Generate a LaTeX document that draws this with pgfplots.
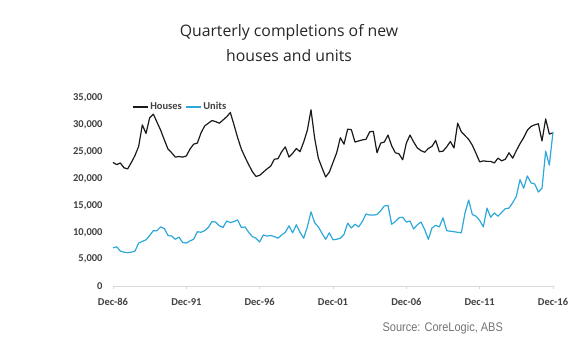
\documentclass[border=0pt]{standalone}
\usepackage{pgfplots}
\pgfplotsset{compat=1.18}
\usepackage{pgfplotstable}
\usepackage{fontspec}
\setmainfont{Carlito}
\newfontfamily\titlefont{Open Sans}
\newfontfamily\srcfont{Liberation Sans}
\definecolor{unitsc}{HTML}{2EA8D8}
\definecolor{housec}{HTML}{1A1A1A}
\definecolor{tickc}{HTML}{404040}
\definecolor{axc}{HTML}{D9D9D9}

\pgfplotstableread{
q v
0 23000
1 22600
2 22900
3 22000
4 21800
5 23000
6 24300
7 26000
8 30000
9 28400
10 31300
11 32000
12 30500
13 29000
14 27200
15 25500
16 24800
17 24000
18 24100
19 24000
20 24200
21 25500
22 26400
23 26600
24 28500
25 29800
26 30300
27 30800
28 30600
29 30300
30 30900
31 31500
32 32300
33 30000
34 27600
35 25500
36 24000
37 22600
38 21300
39 20400
40 20600
41 21200
42 21800
43 22300
44 23600
45 23700
46 25000
47 25900
48 24000
49 24700
50 25600
51 25000
52 26800
53 29000
54 32800
55 27500
56 23800
57 22000
58 20300
59 21200
60 23000
61 24800
62 27600
63 26400
64 29200
65 29100
66 26800
67 27000
68 27200
69 27300
70 28700
71 28800
72 24800
73 26600
74 26800
75 28100
76 26100
77 24800
78 24600
79 23500
80 26600
81 28100
82 26800
83 25700
84 25200
85 24900
86 25600
87 26000
88 27100
89 25000
90 25100
91 25900
92 26900
93 25700
94 30300
95 28700
96 28000
97 27300
98 26200
99 24700
100 23100
101 23300
102 23200
103 23200
104 22900
105 23800
106 23300
107 23600
108 24800
109 23800
110 25200
111 26500
112 27600
113 29000
114 29700
115 30000
116 30200
117 27000
118 31100
119 28300
120 28500
}\houses

\pgfplotstableread{
q v
0 7100
1 7300
2 6500
3 6300
4 6200
5 6300
6 6500
7 8000
8 8300
9 8600
10 9400
11 10300
12 10300
13 11000
14 10700
15 9400
16 9300
17 8700
18 9100
19 8100
20 8000
21 8400
22 8700
23 10100
24 10000
25 10300
26 10900
27 12000
28 11900
29 11200
30 10900
31 12100
32 11800
33 12000
34 12300
35 10900
36 11000
37 10000
38 9200
39 8900
40 8200
41 9500
42 9300
43 9400
44 9200
45 8900
46 9500
47 10000
48 11200
49 9900
50 11400
51 10000
52 8900
53 11000
54 13800
55 11800
56 11000
57 9800
58 8700
59 9900
60 8600
61 8700
62 8900
63 9600
64 11700
65 10800
66 11500
67 11000
68 12000
69 13400
70 13200
71 13200
72 13300
73 14000
74 14900
75 15000
76 11500
77 12000
78 12700
79 12800
80 11900
81 12100
82 10600
83 11400
84 11900
85 10500
86 8700
87 10800
88 11300
89 11000
90 12700
91 10300
92 10200
93 10100
94 10000
95 9900
96 13600
97 16000
98 13300
99 13000
100 12200
101 11000
102 14500
103 12800
104 13600
105 13000
106 13700
107 14400
108 14500
109 15500
110 16700
111 19800
112 18200
113 20500
114 19200
115 19000
116 17500
117 18200
118 25100
119 22500
120 28700
}\units

\begin{document}
\begin{tikzpicture}
\path[use as bounding box] (0pt,0pt) rectangle (580pt,352pt);
\node[font=\titlefont\fontsize{15.8}{25}\selectfont, text=black!85, align=center, anchor=north] at (289pt,331pt) {Quarterly completions of new\\houses and units};
\node[font=\srcfont\fontsize{12.5}{14}\selectfont, text=black!55, anchor=east, xscale=0.88, transform shape] at (506pt,24pt) {Source: CoreLogic, ABS};
\begin{axis}[
  at={(113pt,66pt)}, anchor=south west,
  scale only axis, width=440pt, height=188pt,
  xmin=0, xmax=120, ymin=0, ymax=35000,
  axis lines*=left,
  x axis line style={draw=axc, line width=0.8pt, -},
  y axis line style={draw=none},
  xtick={0,20,...,120},
  xticklabels={Dec-86,Dec-91,Dec-96,Dec-01,Dec-06,Dec-11,Dec-16},
  xtick style={draw=axc, line width=0.8pt},
  ytick style={draw=none},
  tick align=outside, major tick length=3pt,
  ytick={0,5000,...,35000},
  every tick label/.append style={font=\fontsize{10.5}{12}\selectfont\bfseries, text=tickc},
  xticklabel style={yshift=-6pt},
  yticklabel style={xshift=-4pt},
  /pgf/number format/assume math mode=true,
  /pgf/number format/1000 sep={,},
  scaled y ticks=false,
  clip=false,
  legend style={at={(0.043,0.952)}, anchor=west, draw=none, fill=none,
    legend columns=2, font=\fontsize{10.5}{12}\selectfont\bfseries, text=tickc,
    /tikz/every even column/.append style={column sep=1pt},
    inner sep=0pt, outer sep=0pt},
  legend cell align=left,
  legend image code/.code={\draw[#1, line width=1.4pt] (0pt,0pt) -- (15pt,0pt);},
]
\addplot[housec, line width=1.2pt, line join=round] table[x=q,y=v] {\houses};
\addlegendentry{Houses}
\addplot[unitsc, line width=1.2pt, line join=round] table[x=q,y=v] {\units};
\addlegendentry{Units}
\end{axis}
\end{tikzpicture}
\end{document}
